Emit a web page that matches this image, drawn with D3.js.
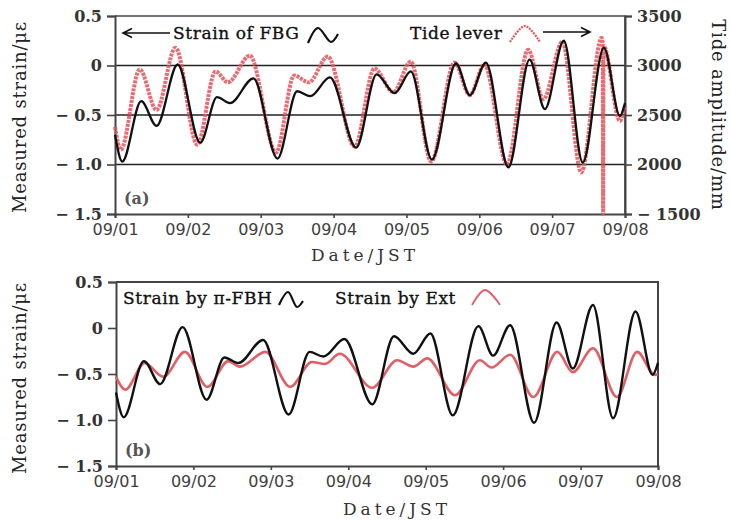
<!DOCTYPE html>
<html>
<head>
<meta charset="utf-8">
<script src="https://cdn.jsdelivr.net/npm/d3@7"></script>
<style>
  body { margin: 0; background: #fff; }
</style>
</head>
<body>
<div id="chart"></div>
<script>
// tick labels
const dateLabels = ["09/01", "09/02", "09/03", "09/04", "09/05", "09/06", "09/07", "09/08"];
const strainTicks = [0.5, 0, -0.5, -1.0, -1.5];
const tideTicks = [3500, 3000, 2500, 2000, 1500];

// FBG strain (days after 09/01 00:00, microstrain), read at turning points
const fbgDays   = [0.00, 0.10, 0.36, 0.57, 0.86, 1.17, 1.40, 1.58, 1.90, 2.23, 2.50, 2.68, 2.95, 3.31, 3.59, 3.84, 4.06, 4.35, 4.68, 4.87, 5.09, 5.40, 5.69, 5.90, 6.16, 6.42, 6.71, 6.93, 7.00];
const fbgStrain = [-0.70, -0.97, -0.36, -0.61, 0.01, -0.78, -0.32, -0.38, -0.13, -0.94, -0.26, -0.31, -0.12, -0.83, -0.09, -0.28, -0.06, -0.95, 0.02, -0.30, 0.03, -1.03, 0.06, -0.44, 0.25, -0.98, 0.18, -0.51, -0.38];

// tide level (mm)
const tideDays  = [0.00, 0.08, 0.34, 0.57, 0.83, 1.13, 1.38, 1.55, 1.85, 2.21, 2.46, 2.66, 2.92, 3.29, 3.56, 3.82, 4.06, 4.34, 4.66, 4.87, 5.07, 5.38, 5.67, 5.88, 6.14, 6.40, 6.68, 6.695, 6.70, 6.705, 6.93, 7.00];
const tideLevel = [2380, 2150, 2960, 2550, 3180, 2200, 2940, 2830, 3100, 2120, 2900, 2830, 3090, 2180, 2970, 2730, 3040, 2030, 3030, 2700, 3010, 2000, 3160, 2660, 3240, 1920, 3280, 3220, 1500, 3200, 2440, 2600];

// strain by extensometer
const extDays   = [0.00, 0.12, 0.37, 0.61, 0.89, 1.18, 1.45, 1.60, 1.93, 2.25, 2.53, 2.70, 2.89, 3.31, 3.63, 3.84, 4.02, 4.38, 4.70, 4.85, 5.09, 5.39, 5.70, 5.90, 6.16, 6.47, 6.73, 6.96, 7.00];
const extStrain = [-0.53, -0.67, -0.38, -0.53, -0.26, -0.64, -0.36, -0.42, -0.26, -0.64, -0.37, -0.39, -0.28, -0.65, -0.35, -0.42, -0.33, -0.73, -0.35, -0.43, -0.29, -0.75, -0.26, -0.48, -0.22, -0.75, -0.26, -0.51, -0.50];

const width = 731, height = 522;
const serif = "'DejaVu Serif', serif";
const sans = "'DejaVu Sans', sans-serif";

const svg = d3.select("#chart").append("svg")
    .attr("width", width)
    .attr("height", height);

const fmtStrain = d => d === 0 ? "0" : (d < 0 ? "\u2212 " : "") + Math.abs(d).toFixed(1);
const fmtTide = d => d === 1500 ? "\u2212 1500" : String(d);

function styleAxis(g) {
  g.select(".domain").attr("stroke", "#444").attr("stroke-width", 2);
  g.selectAll(".tick line").attr("stroke", "#444").attr("stroke-width", 1.6);
}

function drawPanel(o) {
  const x = d3.scaleLinear().domain([0, 7]).range([o.left, o.right]);
  const y = d3.scaleLinear().domain([-1.5, 0.5]).range([o.bottom, o.top]);
  const g = svg.append("g");

  // grid lines
  if (o.grid) {
    g.selectAll(".grid")
      .data(strainTicks.filter(t => t > -1.5 && t < 0.5))
      .enter().append("line")
        .attr("x1", o.left).attr("x2", o.right)
        .attr("y1", d => y(d)).attr("y2", d => y(d))
        .attr("stroke", "#222")
        .attr("stroke-width", 1.4);
  }

  // frame top + right
  g.append("path")
    .attr("d", `M${o.left},${y(0.5)}H${o.right}V${o.bottom}`)
    .attr("fill", "none")
    .attr("stroke", "#444")
    .attr("stroke-width", o.grid ? 1.6 : 2);

  g.append("g")
    .attr("transform", `translate(${o.left},0)`)
    .call(d3.axisLeft(y).tickValues(strainTicks).tickFormat(fmtStrain).tickSize(8).tickPadding(5))
    .call(styleAxis)
    .call(a => a.selectAll("text")
      .style("font-family", serif).style("font-size", "16px").style("font-weight", "bold")
      .attr("fill", "#333"));

  g.append("g")
    .attr("transform", `translate(0,${o.bottom})`)
    .call(d3.axisBottom(x).tickValues(d3.range(8)).tickFormat(i => dateLabels[i]).tickSize(4).tickPadding(6))
    .call(styleAxis)
    .call(a => a.selectAll("text")
      .style("font-family", sans).style("font-size", "16px")
      .attr("fill", "#404040"));

  if (o.tide) {
    const yT = d3.scaleLinear().domain([1500, 3500]).range([o.bottom, o.top]);
    g.append("g")
      .attr("transform", `translate(${o.right},0)`)
      .call(d3.axisRight(yT).tickValues(tideTicks).tickFormat(fmtTide).tickSize(7).tickPadding(5))
      .call(styleAxis)
      .call(a => a.selectAll("text")
        .style("font-family", serif).style("font-size", "16px").style("font-weight", "bold")
        .attr("fill", "#333"));
    o.yT = yT;
  }

  // y label
  svg.append("text")
    .attr("transform", `translate(${o.ylabelX},${o.ylabelY}) rotate(-90)`)
    .attr("text-anchor", "middle")
    .attr("dy", "0.35em")
    .style("font-family", serif).style("font-size", "18px")
    .style("letter-spacing", "0.8px")
    .attr("fill", "#222")
    .text("Measured strain/\u03bc\u03b5");

  // x label
  svg.append("text")
    .attr("x", o.xlabelX).attr("y", o.xlabelY)
    .attr("text-anchor", "middle")
    .style("font-family", serif).style("font-size", "17px")
    .style("letter-spacing", "4px")
    .attr("fill", "#333")
    .text("Date/JST");

  // panel tag
  svg.append("text")
    .attr("x", o.left + 9).attr("y", o.bottom - 10)
    .style("font-family", serif).style("font-size", "16px").style("font-weight", "bold")
    .attr("fill", "#555")
    .text(o.tag);

  return { x, y, g };
}

const cfgA = { left: 115, right: 625, top: 16, bottom: 214, grid: true, tide: true,
               ylabelX: 20, ylabelY: 117, xlabelX: 365, xlabelY: 261, tag: "(a)" };
const cfgB = { left: 116, right: 658, top: 282, bottom: 466, grid: false, tide: false,
               ylabelX: 20, ylabelY: 378, xlabelX: 397, xlabelY: 515, tag: "(b)" };

const pA = drawPanel(cfgA);
const pB = drawPanel(cfgB);

// panel (a) lines
const tideLine = d3.line()
    .x(d => pA.x(d[0])).y(d => cfgA.yT(d[1]))
    .curve(d3.curveMonotoneX);
const fbgLineA = d3.line()
    .x(d => pA.x(d[0])).y(d => pA.y(d[1]))
    .curve(d3.curveMonotoneX);

pA.g.append("path")
  .datum(d3.zip(tideDays, tideLevel))
  .attr("d", tideLine)
  .attr("fill", "none")
  .attr("stroke", "#e3535c")
  .attr("stroke-opacity", 0.85)
  .attr("stroke-width", 4)
  .attr("stroke-dasharray", "3,1");

pA.g.append("path")
  .datum(d3.zip(fbgDays, fbgStrain))
  .attr("d", fbgLineA)
  .attr("fill", "none")
  .attr("stroke", "#111")
  .attr("stroke-width", 2.3);

// panel (b) lines
const lineB = d3.line()
    .x(d => pB.x(d[0])).y(d => pB.y(d[1]))
    .curve(d3.curveMonotoneX);

pB.g.append("path")
  .datum(d3.zip(extDays, extStrain))
  .attr("d", lineB)
  .attr("fill", "none")
  .attr("stroke", "#e06068")
  .attr("stroke-width", 2.6);

pB.g.append("path")
  .datum(d3.zip(fbgDays, fbgStrain))
  .attr("d", lineB)
  .attr("fill", "none")
  .attr("stroke", "#111")
  .attr("stroke-width", 2.4);

// legends
const squiggle = d3.line().curve(d3.curveCatmullRom);

function legendText(x, y, s) {
  svg.append("text")
    .attr("x", x).attr("y", y)
    .style("font-family", serif).style("font-size", "17px")
    .style("letter-spacing", "0.6px")
    .attr("fill", "#111")
    .attr("stroke", "#111").attr("stroke-width", 0.35)
    .text(s);
}

// (a)
svg.append("path")
  .attr("d", "M170,33H124M132,28.5L123,33L132,37.5")
  .attr("fill", "none").attr("stroke", "#111").attr("stroke-width", 1.6);
legendText(173, 39, "Strain of FBG");
svg.append("path")
  .attr("d", squiggle([[308, 43], [318, 28], [331, 42], [338, 34]]))
  .attr("fill", "none").attr("stroke", "#111").attr("stroke-width", 2.2);
legendText(410, 39, "Tide lever");
svg.append("path")
  .attr("d", squiggle([[510, 42], [525, 26], [540, 42]]))
  .attr("fill", "none").attr("stroke", "#e3535c").attr("stroke-width", 2.2)
  .attr("stroke-dasharray", "2,1");
svg.append("path")
  .attr("d", "M543,32H589M581,27.5L590,32L581,36.5")
  .attr("fill", "none").attr("stroke", "#111").attr("stroke-width", 1.6);

// (b)
legendText(123, 304, "Strain by \u03c0-FBH");
svg.append("path")
  .attr("d", squiggle([[279, 305], [288, 292], [297, 307], [303, 301]]))
  .attr("fill", "none").attr("stroke", "#111").attr("stroke-width", 2.2);
legendText(335, 304, "Strain by Ext");
svg.append("path")
  .attr("d", squiggle([[472, 305], [485, 290], [500, 305]]))
  .attr("fill", "none").attr("stroke", "#e06068").attr("stroke-width", 1.8);

// right y label
svg.append("text")
  .attr("transform", `translate(718,${(cfgA.top + cfgA.bottom) / 2}) rotate(90)`)
  .attr("text-anchor", "middle")
  .attr("dy", "0.35em")
  .style("font-family", serif).style("font-size", "18px")
  .style("letter-spacing", "0.8px")
  .attr("fill", "#222")
  .text("Tide amplitude/mm");
</script>
</body>
</html>
